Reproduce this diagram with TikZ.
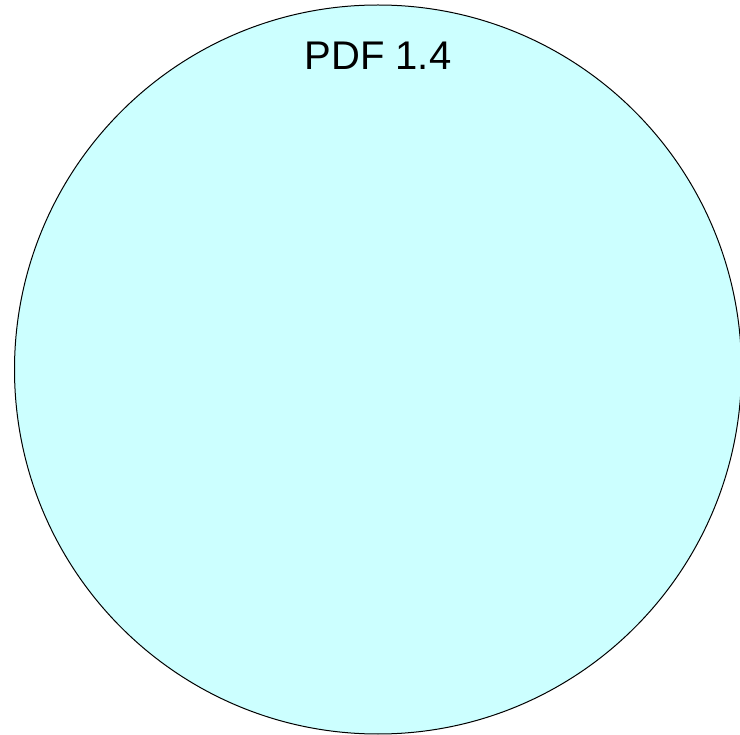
\documentclass[tikz,border=0pt]{standalone}
\usepackage{fontspec}
\setmainfont{Liberation Sans}
\definecolor{fillcyan}{RGB}{204,255,255}
\begin{document}
\begin{tikzpicture}[x=1pt,y=-1pt,
  bubble/.style={draw=black,line width=1pt,fill=fillcyan}]
\useasboundingbox (0,0) rectangle (740,735);
\begin{scope}
\clip (0,0) rectangle (740,735);
\path[bubble] (378,369.5) ellipse [x radius=363.5,y radius=364.5];
\end{scope}
\node[font=\fontsize{40}{48}\selectfont,anchor=base] (title) at (378,70) {PDF 1.4};
\end{tikzpicture}
\end{document}
